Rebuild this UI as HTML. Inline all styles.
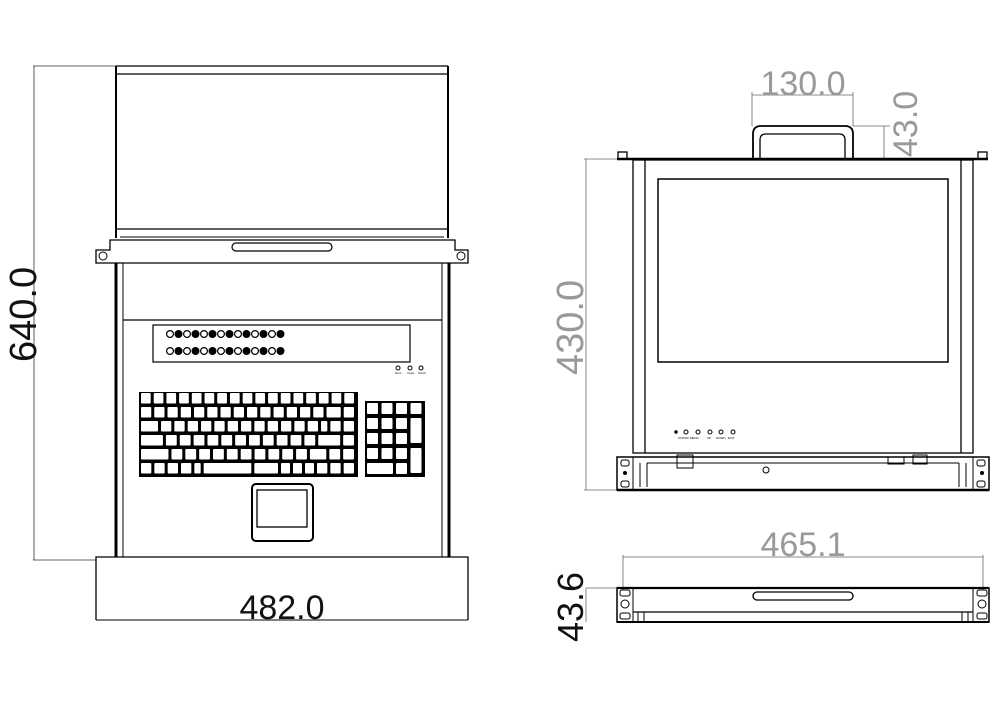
<!DOCTYPE html>
<html><head><meta charset="utf-8"><style>
html,body{margin:0;padding:0;background:#fff;}
svg{display:block;}
text{font-family:"Liberation Sans",sans-serif;}
</style></head><body>
<svg id="s" width="1000" height="707" viewBox="0 0 1000 707" xmlns="http://www.w3.org/2000/svg">
<g fill="none" stroke="#000" stroke-width="1">
<line x1="34" y1="66" x2="34" y2="560" stroke="#333" stroke-width="0.8"/>
<line x1="33" y1="66" x2="116" y2="66" stroke="#333" stroke-width="0.8"/>
<line x1="33" y1="560" x2="96" y2="560" stroke="#333" stroke-width="0.8"/>
<line x1="116" y1="66" x2="448" y2="66" stroke-width="1.3"/>
<line x1="117" y1="74" x2="447" y2="74" stroke-width="1.3"/>
<path d="M116 66 V238 M448 66 V238" stroke-width="2"/>
<line x1="116" y1="229" x2="448" y2="229" stroke-width="1.3"/>
<line x1="120" y1="237" x2="444" y2="237"/>
<path d="M110 240 H455 V250 H468 V263 H96 V250 H110 Z" stroke-width="1.3"/>
<circle cx="103" cy="256" r="4"/><circle cx="461" cy="256" r="4"/>
<rect x="232" y="243" width="100" height="8" rx="4" stroke-width="1.2"/>
<path d="M116 263 V557 M449 263 V557" stroke-width="3"/>
<path d="M123 263 V557 M442 263 V557" stroke-width="1"/>
<line x1="123" y1="320" x2="442" y2="320" stroke-width="1.2"/>
<rect x="153" y="325" width="257" height="37" stroke-width="1.2"/>
<rect x="252" y="484" width="61" height="57" rx="4" stroke-width="2"/>
<rect x="257" y="490" width="50" height="37" stroke-width="1.3"/>
<path d="M96 620 V557 H468 V620" stroke-width="1.3"/>
<line x1="96" y1="620" x2="468" y2="620" stroke-width="1"/>
<g stroke="#666" stroke-width="0.8">
<line x1="752" y1="92" x2="752" y2="126"/>
<line x1="853" y1="92" x2="853" y2="126"/>
<line x1="752" y1="95" x2="853" y2="95"/>
<line x1="853" y1="126" x2="890" y2="126"/>
<line x1="884" y1="126" x2="884" y2="159"/>
<line x1="586" y1="159" x2="586" y2="490"/>
<line x1="584" y1="159" x2="617" y2="159"/>
<line x1="584" y1="490" x2="617" y2="490"/>
<line x1="623" y1="557" x2="983" y2="557"/>
<line x1="623" y1="555" x2="623" y2="590"/>
<line x1="983" y1="555" x2="983" y2="590"/>
</g>
<path d="M753 159 V134 Q753 126 761 126 H845 Q853 126 853 134 V159" stroke-width="1.8"/>
<path d="M760 159 V140 Q760 134 766 134 H839 Q845 134 845 140 V159" stroke-width="1.3"/>
<line x1="617" y1="159" x2="988" y2="159" stroke-width="2.5"/>
<rect x="618" y="152" width="9" height="7" stroke-width="1.3"/>
<rect x="978" y="152" width="9" height="7" stroke-width="1.3"/>
<rect x="633" y="160" width="340" height="293" stroke-width="1.3"/>
<line x1="645" y1="160" x2="645" y2="453" stroke-width="1.3"/>
<line x1="961" y1="160" x2="961" y2="453" stroke-width="1.3"/>
<rect x="658" y="179" width="290" height="183" stroke-width="1.5"/>
<rect x="617" y="457" width="372" height="33" stroke-width="1.5"/>
<line x1="617" y1="490" x2="989" y2="490" stroke-width="2.5"/>
<line x1="633" y1="457" x2="633" y2="490"/>
<line x1="973" y1="457" x2="973" y2="490"/>
<line x1="647" y1="463" x2="959" y2="463"/>
<path d="M640 463 V487 M647 463 V487 M959 463 V487 M966 463 V487"/>
<rect x="677" y="455" width="16" height="13"/>
<rect x="913" y="455" width="14" height="9"/>
<rect x="888" y="457" width="16" height="7"/>
<circle cx="766" cy="470" r="3"/>
<rect x="621" y="460" width="8" height="6" rx="2"/><rect x="621" y="481" width="8" height="6" rx="2"/>
<rect x="977" y="460" width="8" height="6" rx="2"/><rect x="977" y="481" width="8" height="6" rx="2"/>
<circle cx="625" cy="473" r="1.5" fill="#000"/><circle cx="982" cy="473" r="1.5" fill="#000"/>
<line x1="586" y1="588" x2="617" y2="588" stroke="#666" stroke-width="0.8"/>
<line x1="586" y1="588" x2="586" y2="622" stroke="#666" stroke-width="0.8"/>
<rect x="617" y="588" width="372" height="34" stroke-width="1.5"/>
<line x1="617" y1="588" x2="989" y2="588" stroke-width="2.2"/>
<line x1="633" y1="612" x2="973" y2="612" stroke-width="1.2"/>
<line x1="617" y1="622" x2="989" y2="622" stroke-width="2"/>
<path d="M633 588 V622 M973 588 V622 M638 612 V622 M644 612 V622 M962 612 V622 M968 612 V622"/>
<rect x="753" y="592" width="100" height="8" rx="4" stroke-width="1.3"/>
<rect x="620" y="590" width="10" height="6" rx="2"/><circle cx="625" cy="604" r="4"/><rect x="620" y="613" width="10" height="6" rx="2"/>
<rect x="977" y="590" width="10" height="6" rx="2"/><circle cx="982" cy="604" r="4"/><rect x="977" y="613" width="10" height="6" rx="2"/>
</g>
<g id="kb"></g>
<text x="0" y="0" font-size="38" fill="#111" transform="translate(36,362) rotate(-90)">640.0</text>
<text x="282" y="619" font-size="34" fill="#111" text-anchor="middle">482.0</text>
<text x="803" y="95" font-size="34" fill="#999" text-anchor="middle">130.0</text>
<text x="0" y="0" font-size="34" fill="#999" transform="translate(917,157) rotate(-90)">43.0</text>
<text x="0" y="0" font-size="38" fill="#999" transform="translate(583,375) rotate(-90)">430.0</text>
<text x="803" y="556" font-size="34" fill="#999" text-anchor="middle">465.1</text>
<text x="0" y="0" font-size="36" fill="#111" transform="translate(583,642) rotate(-90)">43.6</text>
<g font-size="3" fill="#000">
<text x="395" y="374">Num</text><text x="407" y="374">Caps</text><text x="418" y="374">Scroll</text>
<text x="678" y="439">ON/OFF</text><text x="690" y="439">MENU</text><text x="707" y="439">UP</text><text x="716" y="439">DOWN</text><text x="728" y="439">EXIT</text>
</g>
</svg>
<script>
var NS="http://www.w3.org/2000/svg",g=document.getElementById("kb");
function el(t,a){var e=document.createElementNS(NS,t);for(var k in a)e.setAttribute(k,a[k]);g.appendChild(e);return e;}
el("rect",{x:139,y:392,width:219,height:85,fill:"#000"});
el("rect",{x:365,y:401,width:60,height:76,fill:"#000"});
function row(y,ws){var s=0;ws.forEach(function(w){s+=w;});var f=216/s,x=141;
 ws.forEach(function(w){var W=w*f;el("rect",{x:x,y:y,width:W-3,height:10.5,rx:1,fill:"#fff"});x+=W;});}
var k=1;
row(393,[1,1,1,1,1,1,1,1,1,1,1,1,1,1,1,1,1]);
row(407,[1,1,1,1,1,1,1,1,1,1,1,1,1,1,1.3,1]);
row(421,[1.5,1,1,1,1,1,1,1,1,1,1,1,1,0.7,1,1]);
row(435,[1.8,1,1,1,1,1,1,1,1,1,1,1,1.8,1]);
row(449,[2.2,1,1,1,1,1,1,1,1,1,1,1.4,1,1]);
row(463,[1,1,1,1,0.7,3.8,2,0.9,0.9,0.9,1,1,1]);
for(var r=0;r<5;r++)for(var c=0;c<4;c++){
 if(c==3&&(r==2||r==4))continue;
 var h=11; if(c==3&&(r==1||r==3))h=25;
 var w=11; if(r==4&&c==0){w=26;}
 if(r==4&&c==1)continue;
 el("rect",{x:367+c*14.5,y:403+r*15,width:w,height:h,rx:1,fill:"#fff"});
}
for(var i=0;i<14;i++){[334,351].forEach(function(y){el("circle",{cx:170+i*8.5,cy:y,r:3.4,fill:i%2?"#000":"#fff",stroke:"#000","stroke-width":1.2});});}
[398,410,421].forEach(function(x){el("circle",{cx:x,cy:368,r:2,fill:"#fff",stroke:"#000","stroke-width":1});});
[676,686,698,710,721,733].forEach(function(x,i){el("circle",{cx:x,cy:432,r:i?2:1.2,fill:i?"#fff":"#000",stroke:"#000","stroke-width":1});});
</script>
</body></html>
